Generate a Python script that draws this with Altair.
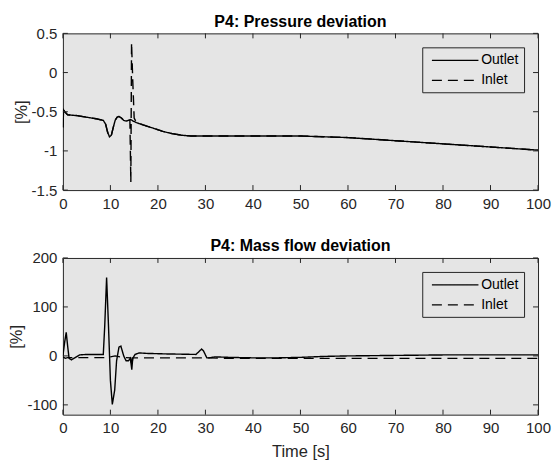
import altair as alt
import pandas as pd

# ---------------- data ----------------
# P4: Pressure deviation [%]
p_out_t = [0, 0.15, 0.4, 1, 3, 5, 7, 8.5, 9.0, 9.4, 9.8, 10.2, 10.6, 11.0, 11.4, 11.8,
           12.3, 12.8, 13.3, 13.8, 14.3, 14.8, 15.5, 17, 19, 21, 23, 25, 27, 35, 45,
           50, 55, 60, 70, 80, 90, 100]
p_out_v = [-0.70, -0.48, -0.50, -0.54, -0.55, -0.57, -0.59, -0.61, -0.66, -0.76, -0.82,
           -0.80, -0.70, -0.61, -0.57, -0.56, -0.58, -0.61, -0.62, -0.61, -0.60, -0.62,
           -0.64, -0.67, -0.71, -0.75, -0.78, -0.80, -0.81, -0.81, -0.81, -0.81, -0.82,
           -0.83, -0.87, -0.91, -0.95, -0.99]
p_in_t = [0, 0.15, 0.4, 1, 3, 5, 7, 8.5, 9.0, 9.4, 9.8, 10.2, 10.6, 11.0, 11.4, 11.8,
          12.3, 12.8, 13.3, 13.8, 14.1, 14.3, 14.45, 14.7, 15.0, 15.5, 17, 19, 21, 23,
          25, 27, 35, 45, 50, 55, 60, 70, 80, 90, 100]
p_in_v = [-0.70, -0.48, -0.50, -0.54, -0.55, -0.57, -0.59, -0.61, -0.66, -0.76, -0.82,
          -0.80, -0.70, -0.61, -0.57, -0.56, -0.58, -0.61, -0.62, -0.61, -0.61, -1.40,
          0.38, -0.10, -0.58, -0.64, -0.67, -0.71, -0.75, -0.78, -0.80, -0.81, -0.81,
          -0.81, -0.81, -0.82, -0.83, -0.87, -0.91, -0.95, -0.99]

# P4: Mass flow deviation [%]
m_out_t = [0, 0.4, 0.7, 1.0, 1.3, 1.8, 2.5, 3.5, 5, 8.5, 8.8, 9.2, 9.6, 10.0, 10.4, 10.9,
           11.3, 11.8, 12.2, 12.8, 13.3, 13.8, 14.2, 14.5, 14.7, 15.2, 16, 18, 22, 28,
           29.2, 29.6, 30.3, 30.8, 32, 35, 40, 45, 50, 55, 60, 70, 80, 90, 100]
m_out_v = [0, 30, 48, 20, -5, -8, -4, 2, 3, 3, 60, 160, 60, -50, -99, -70, -10, 18, 20,
           0, -10, -10, -5, -28, -5, 3, 6, 5, 4, 3, 14, 10, -4, -4, -2, -3, -4, -4, -3,
           -1, 0, 1, 2, 2, 2]
m_in_t = [0, 0.5, 1, 9, 10, 11, 12, 13, 14.3, 14.5, 14.7, 30, 35, 100]
m_in_v = [-2, -5, -3.5, -3.5, -2, 0, -2, -3.5, -4, -20, -4, -4, -5, -5]

x_ticks = [0, 10, 20, 30, 40, 50, 60, 70, 80, 90, 100]
p_ticks = [-1.5, -1, -0.5, 0, 0.5]
m_ticks = [-100, 0, 100, 200]
series = ["Outlet", "Inlet"]

# ---------------- style ----------------
FONT = "Liberation Sans"
AX = "#262626"
BG = "#e5e5e5"
W, H = 476, 157
TL = 5  # inside tick length


def panel(title, out_t, out_v, in_t, in_v, ydom, yticks, xtitle):
    df = pd.DataFrame({
        "t": in_t + out_t,
        "v": in_v + out_v,
        "series": [series[1]] * len(in_t) + [series[0]] * len(out_t),
    })
    xenc = alt.X("t:Q", title=xtitle,
                 scale=alt.Scale(domain=[0, 100], nice=False, zero=False),
                 axis=alt.Axis(values=x_ticks, ticks=False, domain=False, grid=False,
                               labelFontSize=15, labelFont=FONT, labelColor=AX,
                               labelPadding=6, labelFlush=False, labelOverlap=False,
                               titleFontSize=16.5, titleFont=FONT,
                               titleFontWeight="normal", titleColor=AX, titlePadding=8,
                               labelExpr="'' + datum.value"))
    yenc = alt.Y("v:Q", title="[%]",
                 scale=alt.Scale(domain=ydom, nice=False, zero=False),
                 axis=alt.Axis(values=yticks, ticks=False, domain=False, grid=False,
                               labelFontSize=15, labelFont=FONT, labelColor=AX,
                               labelPadding=6, labelFlush=False, labelOverlap=False,
                               titleFontSize=16.5, titleFont=FONT,
                               titleFontWeight="normal", titleColor=AX, titlePadding=2,
                               labelExpr="'' + datum.value"))
    lines = alt.Chart(df).mark_line(color="black", strokeWidth=1.4, clip=True).encode(
        x=xenc, y=yenc,
        strokeDash=alt.StrokeDash(
            "series:N",
            scale=alt.Scale(domain=series, range=[[1, 0], [10, 6]]),
            legend=alt.Legend(title=None, orient="top-right", offset=14,
                              fillColor=BG, strokeColor=AX, padding=5,
                              symbolType="M-3.33,0H3.33", symbolSize=196,
                              symbolStrokeWidth=1.2, symbolStrokeColor="black",
                              labelFontSize=14, labelFont=FONT, labelColor="black",
                              rowPadding=5, labelOffset=18, symbolOffset=20),
        ),
    )
    xt = pd.DataFrame({"t": x_ticks})
    yt = pd.DataFrame({"v": yticks})
    xb = alt.Chart(xt).mark_rule(color=AX, strokeWidth=1).encode(
        x=xenc, y=alt.value(H - TL), y2=alt.value(H))
    xtp = alt.Chart(xt).mark_rule(color=AX, strokeWidth=1).encode(
        x=xenc, y=alt.value(0), y2=alt.value(TL))
    yl = alt.Chart(yt).mark_rule(color=AX, strokeWidth=1).encode(
        y=yenc, x=alt.value(0), x2=alt.value(TL))
    yr = alt.Chart(yt).mark_rule(color=AX, strokeWidth=1).encode(
        y=yenc, x=alt.value(W - TL), x2=alt.value(W))
    return alt.layer(lines, xb, xtp, yl, yr).properties(
        width=W, height=H,
        title=alt.TitleParams(title, fontSize=16, fontWeight="bold", font=FONT,
                              color="black", offset=-3.5, anchor="middle"),
    )


top = panel("P4: Pressure deviation", p_out_t, p_out_v, p_in_t, p_in_v,
            [-1.5, 0.5], p_ticks, None)
bottom = panel("P4: Mass flow deviation", m_out_t, m_out_v, m_in_t, m_in_v,
               [-120, 200], m_ticks, "Time [s]")

chart = alt.vconcat(top, bottom, spacing=26).resolve_scale(
    x="independent", y="independent", strokeDash="independent"
).resolve_legend(strokeDash="independent").configure_view(
    fill=BG, stroke=AX, strokeWidth=1
).properties(
    padding={"left": 0, "top": 5, "right": 0, "bottom": 0},
    background="white",
)

chart.save("out.html", embed_options={"renderer": "svg", "actions": False})
